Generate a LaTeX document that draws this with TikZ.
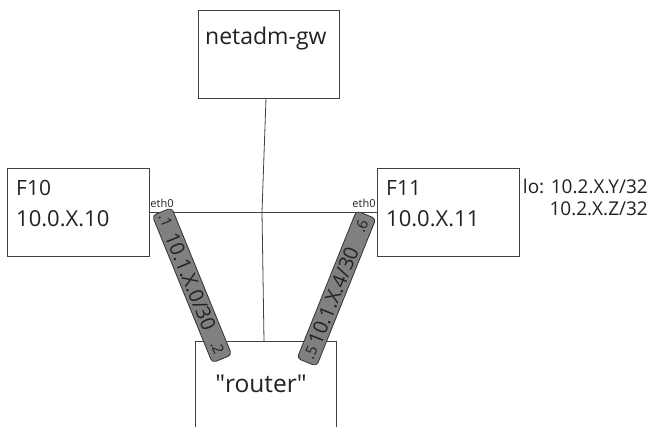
\documentclass[tikz,border=0pt]{standalone}
\usepackage{fontspec}
\setmainfont{Open Sans}
\usetikzlibrary{calc}
\definecolor{ink}{HTML}{222222}
\definecolor{edge}{HTML}{404040}
\begin{document}
\begin{tikzpicture}[x=1pt,y=-1pt,
  box/.style={draw=edge, line width=1.1pt, fill=white, inner sep=0pt, anchor=north west},
  link/.style={draw=edge, line width=0.8pt},
  capsule/.style={draw=black!80, fill=black!50, rounded corners=4pt, line width=0.8pt, minimum width=159pt, minimum height=21pt, inner sep=0pt},
  txt/.style={text=ink, inner sep=0pt},
  big/.style={txt, font=\fontsize{22}{26}\selectfont},
  gwfont/.style={txt, font=\fontsize{23}{27}\selectfont},
  rtfont/.style={txt, font=\fontsize{24.5}{29}\selectfont},
  mid/.style={txt, font=\fontsize{21}{25}\selectfont},
  lotxt/.style={txt, font=\fontsize{19}{23}\selectfont},
  caplbl/.style={txt, font=\fontsize{20}{24}\selectfont},
  dotlbl/.style={txt, font=\fontsize{15}{17}\selectfont},
  tiny/.style={txt, font=\fontsize{11}{13}\selectfont},
]
\clip (0,0) rectangle (654,427);
\fill[white] (0,0) rectangle (654,427);
% boxes
\node[box, minimum width=141pt, minimum height=88pt] (gw) at (198,10) {};
\node[box, minimum width=142pt, minimum height=88pt] (f10) at (7,168) {};
\node[box, minimum width=142pt, minimum height=88pt] (f11) at (377,168) {};
\node[box, minimum width=141pt, minimum height=120pt] (rt) at (195,341) {};
% connectors
\coordinate (gwb) at (266,98);
\coordinate (cross) at (262,212);
\coordinate (rtt) at (264,341);
\draw[link] (f10.east |- cross) -- (f11.west |- cross);
\draw[link] (gwb) -- (cross) -- (rtt);
% texts
\node[gwfont, anchor=base west] (gwt) at (205,45) {netadm-gw};
\node[mid, anchor=base west] (f10n) at (16,196) {F10};
\node[big, anchor=base west] (f10a) at (16,227) {10.0.X.10};
\node[mid, anchor=base west] (f11n) at (386,196) {F11};
\node[big, anchor=base west] (f11a) at (386,227) {10.0.X.11};
\node[rtfont, anchor=base] (rtn) at (261,393) {\textquotedbl router\textquotedbl};
\node[lotxt, anchor=base east] (lo1) at (648,194) {lo: 10.2.X.Y/32};
\node[lotxt, anchor=base east] (lo2) at (648,216) {10.2.X.Z/32};
\node[tiny, anchor=base] (e1) at (162,208) {eth0};
\node[tiny, anchor=base] (e2) at (364,208) {eth0};
% capsules
\coordinate (c1a) at (162,211.5);
\coordinate (c1b) at (222,359);
\node[capsule, rotate=-67.8] (cap1) at ($(c1a)!0.5!(c1b)$) {};
\node[caplbl, rotate=-67.8] (cap1t) at ($(c1a)!0.475!(c1b)$) {10.1.X.0/30};
\node[dotlbl, rotate=-67.8] (cap1a) at ($(c1a)!0.06!(c1b)$) {.1};
\node[dotlbl, rotate=-67.8] (cap1b) at ($(c1a)!0.925!(c1b)$) {.2};
\coordinate (c2a) at (307,362);
\coordinate (c2b) at (366,215);
\node[capsule, rotate=68.1] (cap2) at ($(c2a)!0.5!(c2b)$) {};
\node[caplbl, rotate=68.1] (cap2t) at ($(c2a)!0.45!(c2b)$) {10.1.X.4/30};
\node[dotlbl, rotate=68.1] (cap2a) at ($(c2a)!0.065!(c2b)$) {.5};
\node[dotlbl, rotate=68.1] (cap2b) at ($(c2a)!0.925!(c2b)$) {.6};
\end{tikzpicture}
\end{document}
